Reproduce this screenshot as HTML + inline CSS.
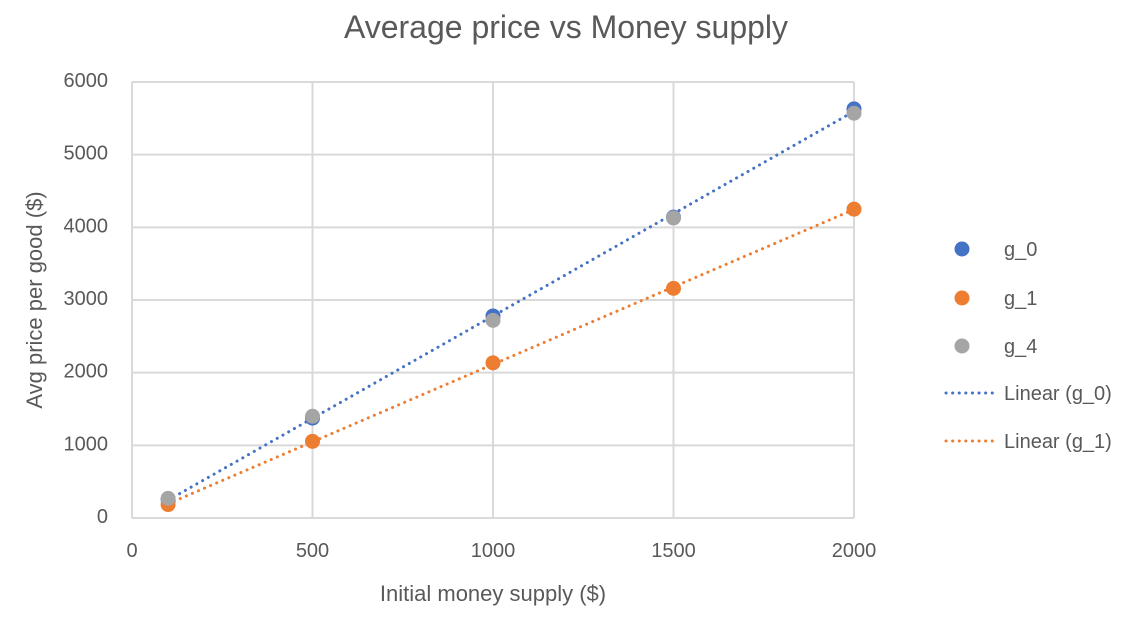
<!DOCTYPE html>
<html><head><meta charset="utf-8"><style>
body{margin:0;background:#fff;}
svg{display:block;font-family:"Liberation Sans",sans-serif;}
</style></head><body>
<svg id="chart" width="1136" height="628">
<text x="566" y="38" text-anchor="middle" font-size="32" fill="#595959">Average price vs Money supply</text>
<g id="grid"></g><g id="ticks"></g><g id="trend"></g><g id="pts"></g>
<text x="493" y="601" text-anchor="middle" font-size="22" fill="#595959">Initial money supply ($)</text>
<text transform="translate(42,300) rotate(-90)" text-anchor="middle" font-size="22" fill="#595959">Avg price per good ($)</text>
<g id="legend"></g>
</svg>
<script>
const xs=[100,500,1000,1500,2000];
const g0=[255,1375,2780,4140,5630];
const g1=[185,1055,2135,3160,4250];
const g4=[270,1400,2720,4130,5570];
const xTicks=[0,500,1000,1500,2000];
const yTicks=[0,1000,2000,3000,4000,5000,6000];
const NS="http://www.w3.org/2000/svg";
const X=v=>132+v*(854-132)/2000, Y=v=>518-v*(518-82)/6000;
function mk(p,t,a){const e=document.createElementNS(NS,t);for(const k in a)e.setAttribute(k,a[k]);p.appendChild(e);return e;}
const grid=document.getElementById('grid'),ticks=document.getElementById('ticks');
xTicks.forEach(v=>{const l=mk(grid,'line',{x1:X(v),x2:X(v),y1:Y(0),y2:Y(6000),stroke:'#d9d9d9','stroke-width':2});

const t=mk(ticks,'text',{x:X(v),y:557,'text-anchor':'middle','font-size':20,fill:'#595959'});t.textContent=v;
});
yTicks.forEach(v=>{const l=mk(grid,'line',{x1:X(0),x2:X(2000),y1:Y(v),y2:Y(v),stroke:'#d9d9d9','stroke-width':2});

const t=mk(ticks,'text',{x:108,y:Y(v)+5,'text-anchor':'end','font-size':20,fill:'#595959'});t.textContent=v;
});
function fit(ys){const n=xs.length,mx=xs.reduce((a,b)=>a+b)/n,my=ys.reduce((a,b)=>a+b)/n;let sxy=0,sxx=0;xs.forEach((x,i)=>{sxy+=(x-mx)*(ys[i]-my);sxx+=(x-mx)**2;});const b=sxy/sxx;return[my-b*mx,b];}
const trend=document.getElementById('trend');
[[g0,'#4472c4','trendline-g0'],[g1,'#ed7d31','trendline-g1']].forEach(([ys,c,n])=>{const[a,b]=fit(ys);
const l=mk(trend,'line',{x1:X(xs[0]),y1:Y(a+b*xs[0]),x2:X(xs[4]),y2:Y(a+b*xs[4]),stroke:c,'stroke-width':3,'stroke-dasharray':'0.1 6.5','stroke-linecap':'round'});
});
const pts=document.getElementById('pts');
[[g0,'#4472c4','point-g0'],[g1,'#ed7d31','point-g1'],[g4,'#a5a5a5','point-g4']].forEach(([ys,c,n])=>{xs.forEach((x,i)=>{
const p=mk(pts,'circle',{cx:X(x),cy:Y(ys[i]),r:7.5,fill:c});});});
const lg=document.getElementById('legend');
[['g_0','#4472c4',249],['g_1','#ed7d31',298],['g_4','#a5a5a5',346]].forEach(([t,c,y])=>{
const g=mk(lg,'g',{});
mk(g,'circle',{cx:962,cy:y,r:7.5,fill:c});const tx=mk(g,'text',{x:1004,y:y+7,'font-size':20,fill:'#595959'});tx.textContent=t;});
[['Linear (g_0)','#4472c4',393],['Linear (g_1)','#ed7d31',441]].forEach(([t,c,y])=>{
const g=mk(lg,'g',{});
mk(g,'line',{x1:946,x2:994,y1:y,y2:y,stroke:c,'stroke-width':3,'stroke-dasharray':'0.1 6.5','stroke-linecap':'round'});
const tx=mk(g,'text',{x:1004,y:y+7,'font-size':20,fill:'#595959'});tx.textContent=t;});
</script>
</body></html>
